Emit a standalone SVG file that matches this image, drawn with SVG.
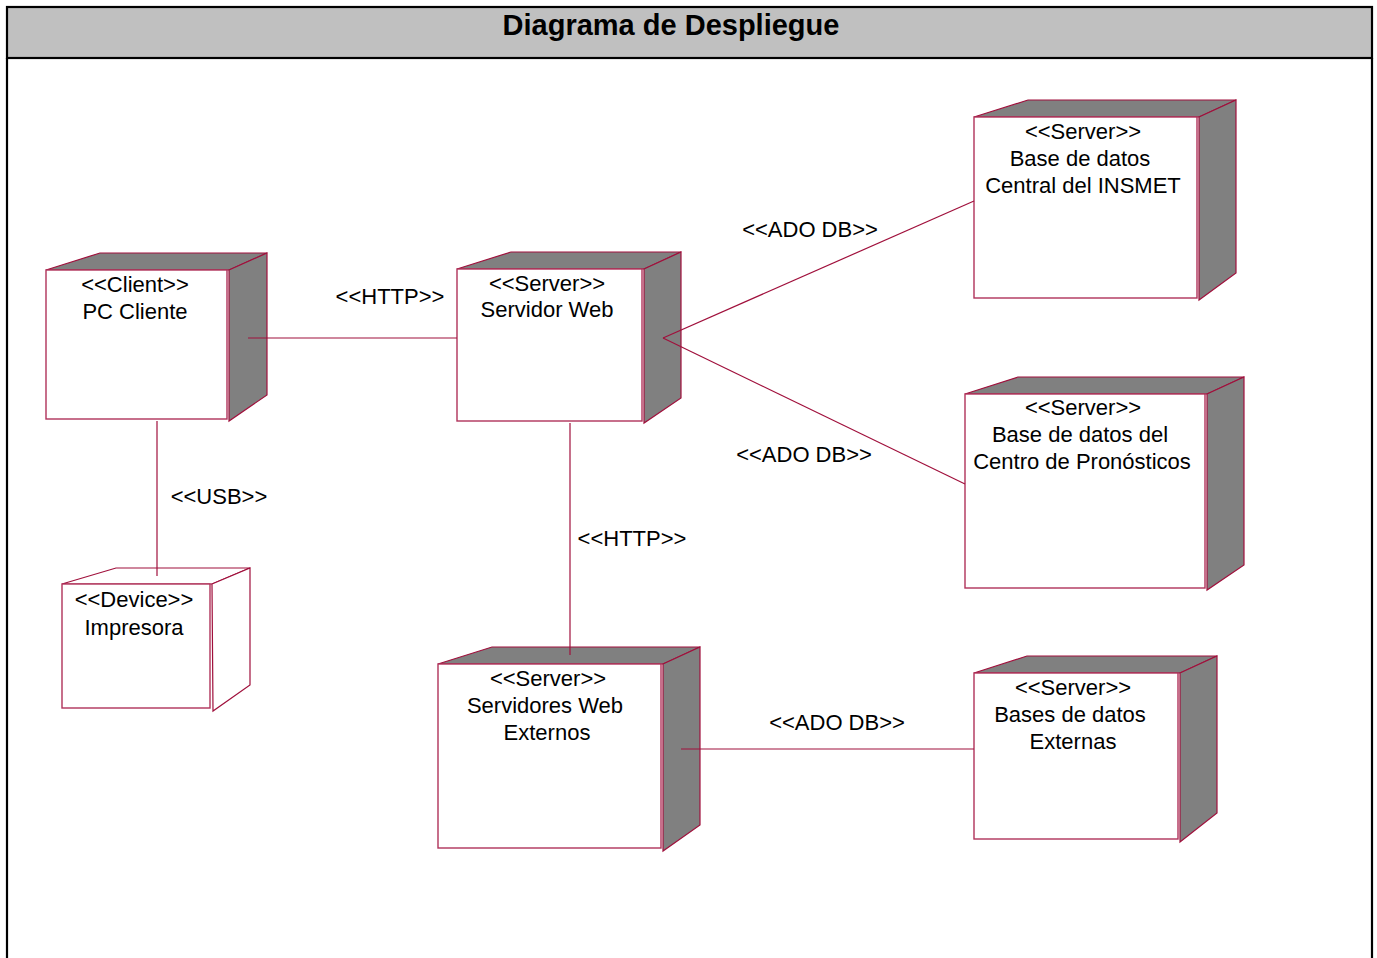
<svg xmlns="http://www.w3.org/2000/svg" width="1377" height="958" viewBox="0 0 1377 958">
  <style>
    .frame { fill: none; stroke: #000; stroke-width: 2.2; }
    .titlebar { fill: #c0c0c0; stroke: #000; stroke-width: 2.2; }
    .title { font-family: "Liberation Sans", Arial, sans-serif; font-weight: bold; font-size: 29px; fill: #000; text-anchor: middle; }
    .front { fill: #fff; stroke: #b0325a; stroke-width: 1.4; }
    .face { fill: #808080; stroke: #a0103c; stroke-width: 1.2; stroke-linejoin: miter; }
    .face-light { fill: #fff; stroke: #a0103c; stroke-width: 1.2; }
    .lbl { font-family: "Liberation Sans", Arial, sans-serif; font-size: 22px; fill: #000; text-anchor: middle; }
    .conn { stroke: #a0103c; stroke-width: 1.2; fill: none; }
  </style>

  <!-- frame and heading -->
  <rect class="titlebar" x="7" y="7" width="1365" height="51"/>
  <line class="frame" x1="7" y1="58" x2="7" y2="960"/>
  <line class="frame" x1="1372" y1="58" x2="1372" y2="960"/>
  <text class="title" x="671" y="35">Diagrama de Despliegue</text>

  <!-- PC Cliente -->
  <g id="node-pc-cliente">
    <polygon class="face" points="46,270 100,253 267,253 229,270"/>
    <polygon class="face" points="229,270 267,253 267,395 229,421"/>
    <rect class="front" x="46" y="270" width="181" height="149"/>
    <text class="lbl" x="135" y="292">&lt;&lt;Client&gt;&gt;</text>
    <text class="lbl" x="135" y="319">PC Cliente</text>
  </g>

  <!-- Impresora -->
  <g id="node-impresora">
    <polygon class="face-light" points="62,584 116,568 250,568 212,584"/>
    <polygon class="face-light" points="212,584 250,568 250,685 213,711"/>
    <rect class="front" x="62" y="584" width="148" height="124"/>
    <text class="lbl" x="134" y="607">&lt;&lt;Device&gt;&gt;</text>
    <text class="lbl" x="134" y="635">Impresora</text>
  </g>

  <!-- Servidor Web -->
  <g id="node-servidor-web">
    <polygon class="face" points="457,269 511,252 681,252 644,269"/>
    <polygon class="face" points="644,269 681,252 681,398 644,423"/>
    <rect class="front" x="457" y="269" width="185" height="152"/>
    <text class="lbl" x="547" y="291">&lt;&lt;Server&gt;&gt;</text>
    <text class="lbl" x="547" y="317">Servidor Web</text>
  </g>

  <!-- Base de datos Central del INSMET -->
  <g id="node-bd-central">
    <polygon class="face" points="974,117 1028,100 1236,100 1199,117"/>
    <polygon class="face" points="1199,117 1236,100 1236,273 1199,300"/>
    <rect class="front" x="974" y="117" width="223" height="181"/>
    <text class="lbl" x="1083" y="139">&lt;&lt;Server&gt;&gt;</text>
    <text class="lbl" x="1080" y="166">Base de datos</text>
    <text class="lbl" x="1083" y="193">Central del INSMET</text>
  </g>

  <!-- Base de datos del Centro de Pronósticos -->
  <g id="node-bd-pronosticos">
    <polygon class="face" points="965,394 1018,377 1244,377 1207,394"/>
    <polygon class="face" points="1207,394 1244,377 1244,565 1207,590"/>
    <rect class="front" x="965" y="394" width="240" height="194"/>
    <text class="lbl" x="1083" y="415">&lt;&lt;Server&gt;&gt;</text>
    <text class="lbl" x="1080" y="442">Base de datos del</text>
    <text class="lbl" x="1082" y="469">Centro de Pronósticos</text>
  </g>

  <!-- Servidores Web Externos -->
  <g id="node-servidores-externos">
    <polygon class="face" points="438,664 492,647 700,647 663,664"/>
    <polygon class="face" points="663,664 700,647 700,825 663,851"/>
    <rect class="front" x="438" y="664" width="223" height="184"/>
    <text class="lbl" x="548" y="686">&lt;&lt;Server&gt;&gt;</text>
    <text class="lbl" x="545" y="713">Servidores Web</text>
    <text class="lbl" x="547" y="740">Externos</text>
  </g>

  <!-- Bases de datos Externas -->
  <g id="node-bd-externas">
    <polygon class="face" points="974,673 1027,656 1217,656 1180,673"/>
    <polygon class="face" points="1180,673 1217,656 1217,813 1180,842"/>
    <rect class="front" x="974" y="673" width="204" height="166"/>
    <text class="lbl" x="1073" y="695">&lt;&lt;Server&gt;&gt;</text>
    <text class="lbl" x="1070" y="722">Bases de datos</text>
    <text class="lbl" x="1073" y="749">Externas</text>
  </g>

  <!-- connectors, drawn over the node faces -->
  <g id="connectors">
    <line class="conn" x1="248" y1="338" x2="457" y2="338"/>
    <line class="conn" x1="157" y1="421" x2="157" y2="576"/>
    <line class="conn" x1="570" y1="423" x2="570" y2="655"/>
    <line class="conn" x1="663" y1="338" x2="974" y2="201"/>
    <line class="conn" x1="663" y1="338" x2="965" y2="484"/>
    <line class="conn" x1="681" y1="749" x2="974" y2="749"/>
    <text class="lbl" x="390" y="304">&lt;&lt;HTTP&gt;&gt;</text>
    <text class="lbl" x="219" y="504">&lt;&lt;USB&gt;&gt;</text>
    <text class="lbl" x="632" y="546">&lt;&lt;HTTP&gt;&gt;</text>
    <text class="lbl" x="810" y="237">&lt;&lt;ADO DB&gt;&gt;</text>
    <text class="lbl" x="804" y="462">&lt;&lt;ADO DB&gt;&gt;</text>
    <text class="lbl" x="837" y="730">&lt;&lt;ADO DB&gt;&gt;</text>
  </g>
</svg>
